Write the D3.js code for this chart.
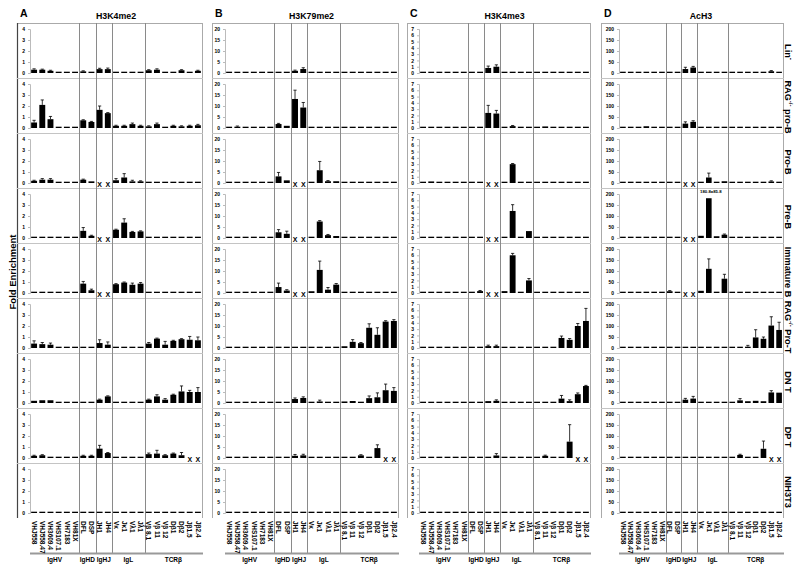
<!DOCTYPE html>
<html><head><meta charset="utf-8">
<script src="https://cdn.jsdelivr.net/npm/d3@7"></script>
<style>
body{margin:0;background:#fff}
svg{display:block}
text{font-family:"Liberation Sans",Arial,sans-serif;font-weight:bold;fill:#000}
</style>
</head><body>
<svg id="c" width="800" height="566"></svg>
<script>
const categories = ["VHJ558","VHJ558.47","VH3609.4","VHS107.1","VH7183","VH81X","DFL","DSP","JH1","JH4","Vκ","Jκ1","Vλ1","Jλ1","Vβ 8.1","Vβ 11","Vβ 12","Dβ1","Dβ2","Jβ1.5","Jβ2.4"];
const groupNames = ["IgHV","IgHD","IgHJ","IgL","TCRβ"];
const groupSizes = [6,2,2,4,7];
const rowLabels = ["Lin","RAG pro-B","Pro-B","Pre-B","Immature B","RAG Pro-T","DN T","DP T","NIH3T3"];
const panelLetters = ["A","B","C","D"];
const panelTitles = ["H3K4me2","H3K79me2","H3K4me3","AcH3"];
const panelTicks = [[0,1,2,3,4],[0,5,10,15,20],[0,1,2,3,4,5,6,7],[0,50,100,150,200]];

// null = not determined (X)
const h3k4me2Mean = [
 [0.3,0.3,0.2,0.05,0.02,0.02, 0.15,0.1, 0.35,0.35, 0.1,0.1,0.05,0.1, 0.25,0.3,0.1,0.1,0.25,0.1,0.2],
 [0.5,2.1,0.8,0.05,0.05,0.05, 0.7,0.55, 1.65,1.35, 0.2,0.2,0.35,0.2, 0.15,0.35,0.1,0.2,0.15,0.2,0.25],
 [0.2,0.3,0.3,0.05,0.05,0.05, 0.3,0.15, null,null, 0.25,0.5,0.15,0.15, 0.05,0.1,0.05,0.05,0.05,0.07,0.07],
 [0.05,0.05,0.07,0.05,0.05,0.05, 0.65,0.2, null,null, 0.75,1.4,0.55,0.6, 0.03,0.03,0.03,0.03,0.03,0.03,0.03],
 [0.07,0.07,0.1,0.05,0.05,0.05, 0.85,0.25, null,null, 0.8,0.95,0.75,0.85, 0.05,0.05,0.05,0.05,0.08,0.05,0.05],
 [0.4,0.35,0.3,0.03,0.03,0.03, 0.1,0.08, 0.45,0.3, 0.05,0.05,0.05,0.05, 0.4,0.85,0.3,0.65,0.8,0.75,0.7],
 [0.2,0.25,0.25,0.03,0.03,0.03, 0.08,0.05, 0.3,0.6, 0.03,0.05,0.03,0.03, 0.3,0.6,0.3,0.75,1.05,1.0,1.0],
 [0.2,0.25,0.1,0.03,0.03,0.05, 0.2,0.2, 0.85,0.45, 0.05,0.05,0.05,0.05, 0.35,0.4,0.25,0.4,0.25,null,null],
 [0.02,0.02,0.05,0.02,0.02,0.05, 0.02,0.02, 0.02,0.02, 0.02,0.02,0.02,0.02, 0.02,0.02,0.02,0.02,0.02,0.05,0.02]
];
const h3k4me2Err = [
 [0.08,0.05,0.05,0,0,0, 0.05,0, 0.08,0.1, 0,0,0,0, 0.05,0.08,0,0,0.05,0,0.05],
 [0.2,0.45,0.25,0,0,0, 0.05,0.05, 0.35,0.05, 0.05,0.05,0.1,0.05, 0.05,0.1,0,0.05,0.05,0.05,0.08],
 [0.05,0.1,0.1,0,0,0, 0.05,0.03, 0,0, 0.15,0.35,0.1,0.05, 0,0.05,0,0,0,0,0],
 [0,0,0,0,0,0, 0.3,0.05, 0,0, 0.05,0.35,0.05,0.05, 0,0,0,0,0,0,0],
 [0,0,0.05,0,0,0, 0.2,0.1, 0,0, 0.05,0.05,0.15,0.1, 0,0,0,0,0,0,0],
 [0.25,0.15,0.15,0,0,0, 0.03,0.03, 0.3,0.25, 0,0,0,0, 0.1,0.05,0.3,0.05,0.05,0.3,0.3],
 [0.03,0.03,0.03,0,0,0, 0.02,0, 0.05,0.05, 0,0,0,0, 0.05,0.15,0.1,0.05,0.5,0.15,0.4],
 [0.05,0.05,0,0,0,0, 0.05,0.05, 0.3,0.05, 0,0,0,0, 0.1,0.3,0.05,0.05,0.25,0,0],
 [0,0,0,0,0,0, 0,0, 0,0, 0,0,0,0, 0,0,0,0,0,0,0]
];
const h3k79me2Mean = [
 [0.3,0.1,0.2,0.1,0.1,0.1, 0.1,0.1, 1.0,1.8, 0.2,0.2,0.1,0.1, 0.2,0.2,0.1,0.2,0.2,0.2,0.1],
 [0.3,0.6,0.3,0.2,0.2,0.2, 1.8,1.0, 13.2,9.3, 0.3,0.3,0.2,0.2, 0.3,0.3,0.2,0.2,0.2,0.2,0.3],
 [0.5,0.5,0.4,0.2,0.1,0.3, 3.0,1.2, null,null, 0.1,5.8,0.8,0.8, 0.1,0.1,0.1,0.2,0.3,0.5,0.2],
 [0.3,0.2,0.2,0.6,0.2,0.05, 2.6,1.9, null,null, 0.5,7.5,1.3,0.9, 0.1,0.1,0.5,0.05,0.4,0.3,0.1],
 [0.2,0.2,0.1,0.3,0.1,0.6, 2.7,1.1, null,null, 0.8,10.5,1.5,3.8, 0.1,0.1,0.1,0.1,0.1,0.1,0.1],
 [0.2,0.2,0.2,0.05,0.05,0.05, 0.1,0.1, 0.2,0.4, 0.05,0.2,0.05,0.05, 0.8,2.8,2.2,9.2,6.0,12.0,12.3],
 [0.05,0.05,0.05,0.05,0.05,0.05, 0.3,0.2, 1.8,2.3, 0.05,0.7,0.2,0.3, 0.7,0.9,0.5,2.2,2.6,5.8,5.5],
 [0.05,0.05,0.05,0.05,0.05,0.05, 0.05,0.2, 1.0,1.2, 0.05,0.2,0.05,0.1, 0.5,0.4,1.2,0.05,4.5,null,null],
 [0.05,0.05,0.05,0.05,0.3,0.3, 0.05,0.05, 0.4,0.05, 0.3,0.3,0.05,0.05, 0.05,0.05,0.2,0.4,0.05,0.05,0.05]
];
const h3k79me2Err = [
 [0,0,0,0,0,0, 0,0, 0.3,0.6, 0,0,0,0, 0,0,0,0,0,0,0],
 [0,0.3,0,0,0,0, 0.3,0.2, 4.0,2.3, 0,0,0,0, 0,0,0,0,0,0,0],
 [0.1,0.1,0,0,0,0, 1.8,0.2, 0,0, 0,4.0,0.3,0.2, 0,0,0,0,0,0.1,0],
 [0,0,0,0.1,0,0, 1.2,1.2, 0,0, 0,0.4,0.3,0.2, 0,0,0.1,0,0.1,0,0],
 [0,0,0,0,0,0.1, 1.8,0.4, 0,0, 0.2,4.0,1.0,0.5, 0,0,0,0,0,0,0],
 [0,0,0,0,0,0, 0,0, 0,0.1, 0,0,0,0, 0.1,1.0,0.3,1.8,3.2,0.4,0.6],
 [0,0,0,0,0,0, 0.1,0.1, 0.5,0.5, 0,0.6,0,0, 0.1,0.2,0.1,1.0,2.0,2.8,1.5],
 [0,0,0,0,0,0, 0,0, 0.6,0.5, 0,0,0,0, 0.2,0.1,0.3,0,1.5,0,0],
 [0,0,0,0,0,0, 0,0, 0,0, 0,0,0,0, 0,0,0,0,0,0,0]
];
const h3k4me3Mean = [
 [0.05,0.05,0.05,0.02,0.05,0.02, 0.02,0.02, 0.8,1.0, 0.02,0.15,0.02,0.1, 0.02,0.02,0.02,0.02,0.1,0.15,0.1],
 [0.1,0.1,0.02,0.02,0.02,0.02, 0.02,0.05, 2.4,2.3, 0.2,0.3,0.1,0.15, 0.1,0.25,0.1,0.05,0.2,0.05,0.02],
 [0.05,0.25,0.05,0.05,0.1,0.02, 0.02,0.02, null,null, 0.05,3.0,0.02,0.02, 0.02,0.02,0.02,0.1,0.05,0.1,0.05],
 [0.05,0.1,0.02,0.05,0.1,0.15, 0.2,0.02, null,null, 0.1,4.3,0.02,1.1, 0.02,0.02,0.1,0.1,0.1,0.02,0.02],
 [0.02,0.1,0.15,0.02,0.02,0.05, 0.1,0.3, null,null, 0.3,6.0,0.2,2.0, 0.1,0.02,0.05,0.05,0.1,0.02,0.02],
 [0.05,0.05,0.05,0.05,0.05,0.05, 0.02,0.05, 0.3,0.3, 0.05,0.1,0.1,0.1, 0.05,0.1,0.05,1.6,1.3,3.5,4.3],
 [0.05,0.05,0.05,0.05,0.05,0.05, 0.02,0.05, 0.3,0.35, 0.05,0.1,0.05,0.15, 0.05,0.1,0.05,0.7,0.3,1.4,2.7],
 [0.02,0.02,0.02,0.02,0.02,0.02, 0.02,0.02, 0.2,0.4, 0.02,0.15,0.05,0.05, 0.1,0.35,0.1,0.02,2.6,null,null],
 [0.02,0.02,0.02,0.02,0.02,0.02, 0.02,0.1, 0.02,0.05, 0.02,0.1,0.02,0.02, 0.02,0.02,0.02,0.02,0.02,0.02,0.02]
];
const h3k4me3Err = [
 [0,0,0,0,0,0, 0,0, 0.3,0.3, 0,0,0,0, 0,0,0,0,0,0,0],
 [0,0,0,0,0,0, 0,0, 1.2,0.5, 0,0.1,0,0, 0,0,0,0,0,0,0],
 [0,0,0,0,0,0, 0,0, 0,0, 0,0.1,0,0, 0,0,0,0,0,0,0],
 [0,0,0,0,0,0, 0,0, 0,0, 0,1.0,0,0.05, 0,0,0,0,0,0,0],
 [0,0,0,0,0,0, 0,0.1, 0,0, 0,0.3,0,0.3, 0,0,0,0,0,0,0],
 [0,0,0,0,0,0, 0,0, 0.15,0.15, 0,0,0,0, 0,0,0,0.3,0.2,0.4,2.0],
 [0,0,0,0,0,0, 0,0, 0,0.15, 0,0,0,0, 0,0,0,0.5,0.2,0.2,0.1],
 [0,0,0,0,0,0, 0,0, 0,0.3, 0,0,0,0, 0,0.1,0,0,2.7,0,0],
 [0,0,0,0,0,0, 0,0, 0,0, 0,0,0,0, 0,0,0,0,0,0,0]
];
const ach3Mean = [
 [2,3,2,2,1,1, 1,2, 18,25, 1,3,1,1, 4,4,1,2,3,8,5],
 [2,2,3,8,1,2, 2,2, 20,28, 1,3,2,2, 3,3,2,3,2,4,3],
 [2,6,6,1,1,2, 3,3, null,null, 3,25,2,8, 3,2,2,3,3,7,5],
 [2,2,2,1,2,1, 5,3, null,null, 10,180.8,8,15, 2,2,2,3,2,2,2],
 [2,2,3,6,1,4, 8,3, null,null, 10,110,6,65, 3,2,2,2,2,2,2],
 [3,4,2,1,1,2, 2,2, 3,2, 1,3,1,1, 2,3,6,48,42,102,82],
 [1,3,1,1,1,1, 2,2, 15,20, 1,3,5,3, 2,12,8,10,8,48,47],
 [3,3,1,1,1,3, 4,2, 5,3, 1,2,2,2, 2,14,3,1,42,null,null],
 [1,1,1,1,2,5, 4,3, 1,1, 1,3,1,1, 2,2,1,1,2,5,2]
];
const ach3Err = [
 [0,0,0,0,0,0, 0,0, 8,5, 0,0,0,0, 0,0,0,0,0,3,0],
 [0,0,0,2,0,0, 0,0, 8,5, 0,0,0,0, 0,0,0,0,0,0,0],
 [0,0,0,0,0,0, 0,0, 0,0, 0,20,0,0, 0,0,0,0,0,3,0],
 [0,0,0,0,0,0, 0,0, 0,0, 0,85.8,0,3, 0,0,0,0,0,0,0],
 [0,0,0,0,0,0, 3,0, 0,0, 0,45,0,20, 0,0,0,0,0,0,0],
 [0,0,0,0,0,0, 0,0, 0,0, 0,0,0,0, 0,0,6,35,8,40,35],
 [0,0,0,0,0,0, 0,0, 6,10, 0,0,3,0, 0,8,0,0,0,8,0],
 [0,0,0,0,0,0, 0,0, 0,0, 0,0,0,0, 0,3,0,0,35,0,0],
 [0,0,0,0,0,0, 0,0, 0,0, 0,0,0,0, 0,0,0,0,0,0,0]
];

const panelMeans = [h3k4me2Mean, h3k79me2Mean, h3k4me3Mean, ach3Mean];
const panelErrs = [h3k4me2Err, h3k79me2Err, h3k4me3Err, ach3Err];

// ---- layout ----
const geom = [
  {left:17, axisX:30, right:202},
  {left:212, axisX:225, right:398},
  {left:407, axisX:419, right:590},
  {left:601, axisX:619, right:783}
];
const TOP = 23, ROWH = 55, NROW = 9, FRAMEBOT = 518, GROUPY = 553.5;
const rowTop = r => TOP + ROWH * r;
const FONT = '"Liberation Sans",Arial,sans-serif';

const svg = d3.select("#c");

// y axis title
svg.append("text").attr("transform","translate(16,272) rotate(-90)")
  .attr("text-anchor","middle").style("font-size","9.5px").text("Fold Enrichment");

geom.forEach((g, p) => {
  const G = svg.append("g");
  const x = d3.scaleBand().domain(categories).range([g.axisX, g.right])
    .paddingInner(0.28).paddingOuter(0.14);
  const step = x.step();
  const maxV = panelTicks[p][panelTicks[p].length - 1];

  // letter & title
  G.append("text").attr("x", g.left + 3).attr("y", 17).style("font-size","10.5px").text(panelLetters[p]);
  G.append("text").attr("x", (g.axisX + g.right) / 2).attr("y", 19).attr("text-anchor","middle")
    .style("font-size","8.8px").text(panelTitles[p]);

  // frame
  G.append("line").attr("x1", g.left).attr("x2", g.right + 1).attr("y1", TOP + 0.5).attr("y2", TOP + 0.5)
    .attr("stroke", "#aaa");
  G.append("line").attr("x1", g.left + 0.5).attr("x2", g.left + 0.5).attr("y1", TOP).attr("y2", FRAMEBOT)
    .attr("stroke", p === 0 ? "#444" : "#aaa").attr("stroke-width", p === 0 ? 1.2 : 1);
  G.append("line").attr("x1", g.right + 0.5).attr("x2", g.right + 0.5).attr("y1", TOP).attr("y2", FRAMEBOT)
    .attr("stroke", "#aaa");
  for (let r = 1; r < NROW; r++) {
    G.append("line").attr("x1", g.left).attr("x2", g.right + 1)
      .attr("y1", rowTop(r) + 0.5).attr("y2", rowTop(r) + 0.5).attr("stroke", "#c4c4c4");
  }

  // group separators
  let cum = 0;
  groupSizes.slice(0, -1).forEach(n => {
    cum += n;
    const sx = Math.round(g.axisX + step * cum) + 0.5;
    G.append("line").attr("x1", sx).attr("x2", sx).attr("y1", TOP).attr("y2", GROUPY)
      .attr("stroke", "#8a8a8a");
  });
  // group underline & labels
  G.append("line").attr("x1", g.axisX).attr("x2", g.right + 1).attr("y1", GROUPY).attr("y2", GROUPY)
    .attr("stroke", "#999").attr("stroke-width", 2);
  cum = 0;
  groupSizes.forEach((n, i) => {
    const cx = g.axisX + step * (cum + n / 2);
    cum += n;
    G.append("text").attr("x", cx).attr("y", 562).attr("text-anchor","middle")
      .style("font-size","6.5px").text(groupNames[i]);
  });

  // rows
  for (let r = 0; r < NROW; r++) {
    const zero = rowTop(r) + 50;
    const y = d3.scaleLinear().domain([0, maxV]).range([zero, zero - 44]);
    const ax = G.append("g").attr("transform", `translate(${g.axisX},0)`)
      .call(d3.axisLeft(y).tickValues(panelTicks[p]).tickFormat(d3.format("d")).tickSize(2).tickPadding(3));
    ax.select(".domain").attr("stroke", "#bbb");
    ax.selectAll(".tick line").attr("stroke", "#bbb");
    ax.selectAll(".tick text").style("font-size","5px").style("font-weight","bold")
      .style("font-family", FONT).attr("fill","#000");

    const data = categories.map((c, i) => ({c, v: panelMeans[p][r][i], e: panelErrs[p][r][i]}));
    const RG = G.append("g");
    data.forEach(d => {
      const bx = x(d.c), bw = x.bandwidth(), cx = bx + bw / 2;
      if (d.v === null) {
        RG.append("text").attr("x", cx).attr("y", zero + 4).attr("text-anchor","middle")
          .style("font-size","7px").text("X");
        return;
      }
      const vv = Math.min(d.v, maxV);
      const h = Math.max(1.3, zero - y(vv));
      RG.append("rect").attr("x", bx).attr("width", bw).attr("y", zero - h).attr("height", h)
        .attr("fill", "#000");
      if (d.v + d.e > maxV) {
        RG.append("text").attr("x", cx + 2).attr("y", y(maxV) - 1).attr("text-anchor","middle")
          .style("font-size","4.3px").text(`${d.v}±${d.e}`);
      } else if (d.e > 0) {
        const yt = y(d.v + d.e);
        if (zero - h - yt > 0.5) {
          RG.append("line").attr("x1", cx).attr("x2", cx).attr("y1", zero - h).attr("y2", yt)
            .attr("stroke", "#000").attr("stroke-width", 0.8);
          RG.append("line").attr("x1", cx - 1.6).attr("x2", cx + 1.6).attr("y1", yt).attr("y2", yt)
            .attr("stroke", "#000").attr("stroke-width", 0.8);
        }
      }
    });
  }

  // category labels
  const xa = G.append("g").attr("transform", `translate(0,${FRAMEBOT + 2})`)
    .call(d3.axisBottom(x).tickSize(0));
  xa.select(".domain").remove();
  xa.selectAll(".tick text")
    .attr("transform", "rotate(90)").attr("x", 1).attr("y", 0).attr("dy", "0.35em")
    .attr("text-anchor", "start")
    .style("font-size", "6.5px").style("font-weight","bold")
    .style("font-family", FONT).attr("fill","#000");
});

// row labels at right
rowLabels.forEach((lab, r) => {
  const cy = rowTop(r) + 29;
  const t = svg.append("text").attr("transform", `translate(785,${cy}) rotate(90)`)
    .attr("text-anchor","middle").style("font-size","9.2px");
  if (lab === "Lin") {
    t.append("tspan").text("Lin");
    t.append("tspan").attr("dy", -3.5).style("font-size","6.5px").text("-");
  } else if (lab.startsWith("RAG")) {
    t.append("tspan").text("RAG");
    t.append("tspan").attr("dy", -3.5).style("font-size","6px").text("-/-");
    t.append("tspan").attr("dy", 3.5).text(lab.slice(3));
  } else {
    t.text(lab);
  }
});
</script>
</body></html>
